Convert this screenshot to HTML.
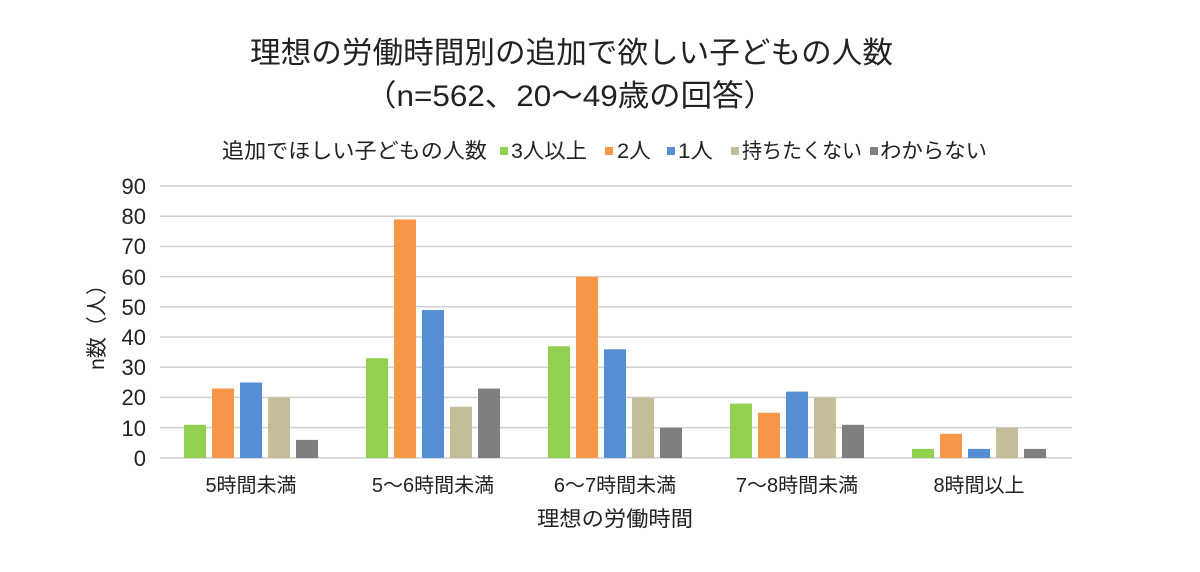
<!DOCTYPE html>
<html><head><meta charset="utf-8"><style>
body{margin:0;background:#fff;}
svg text{font-family:"Liberation Sans","Noto Sans CJK JP",sans-serif;fill:#222;}
</style></head><body>
<svg width="1200" height="567" viewBox="0 0 1200 567" xmlns="http://www.w3.org/2000/svg">
<rect width="1200" height="567" fill="#fff"/>
<text x="250" y="63" font-size="30" textLength="643" lengthAdjust="spacingAndGlyphs">理想の労働時間別の追加で欲しい子どもの人数</text>
<text x="365" y="106" font-size="30" textLength="410" lengthAdjust="spacingAndGlyphs">（n=562、20～49歳の回答）</text>
<g font-size="21">
<text x="222" y="158" textLength="265" lengthAdjust="spacingAndGlyphs">追加でほしい子どもの人数</text>
<rect x="500" y="147" width="8" height="8" fill="#92d050"/><text x="511" y="158" textLength="76" lengthAdjust="spacingAndGlyphs">3人以上</text>
<rect x="605" y="147" width="8" height="8" fill="#f79646"/><text x="617" y="158" textLength="34" lengthAdjust="spacingAndGlyphs">2人</text>
<rect x="667" y="147" width="8" height="8" fill="#558ed5"/><text x="678" y="158" textLength="35" lengthAdjust="spacingAndGlyphs">1人</text>
<rect x="731" y="147" width="8" height="8" fill="#c4bd97"/><text x="742" y="158" textLength="120" lengthAdjust="spacingAndGlyphs">持ちたくない</text>
<rect x="870" y="147" width="8" height="8" fill="#7f7f7f"/><text x="880" y="158" textLength="107" lengthAdjust="spacingAndGlyphs">わからない</text>
</g>
<g stroke="#d0d0d0" stroke-width="1.5">
<line x1="160" x2="1072" y1="186" y2="186"/><line x1="160" x2="1072" y1="216.2" y2="216.2"/>
<line x1="160" x2="1072" y1="246.4" y2="246.4"/><line x1="160" x2="1072" y1="276.6" y2="276.6"/>
<line x1="160" x2="1072" y1="306.8" y2="306.8"/><line x1="160" x2="1072" y1="337" y2="337"/>
<line x1="160" x2="1072" y1="367.2" y2="367.2"/><line x1="160" x2="1072" y1="397.4" y2="397.4"/>
<line x1="160" x2="1072" y1="427.6" y2="427.6"/><line x1="160" x2="1072" y1="458" y2="458"/>
</g>
<g font-size="22" text-anchor="end">
<text x="146" y="194">90</text><text x="146" y="224">80</text><text x="146" y="254">70</text>
<text x="146" y="285">60</text><text x="146" y="315">50</text><text x="146" y="345">40</text>
<text x="146" y="375">30</text><text x="146" y="405">20</text><text x="146" y="436">10</text>
<text x="146" y="466">0</text>
</g>
<text transform="translate(104,322) rotate(-90)" font-size="21" text-anchor="middle">n数（人）</text>
<g font-size="20" text-anchor="middle">
<text x="251" y="492">5時間未満</text><text x="433" y="492">5～6時間未満</text>
<text x="615" y="492">6～7時間未満</text><text x="797" y="492">7～8時間未満</text>
<text x="979" y="492">8時間以上</text>
</g>
<text x="537" y="526" font-size="21" textLength="156" lengthAdjust="spacingAndGlyphs">理想の労働時間</text>
<g>
<rect x="184" y="424.8" width="22" height="33.2" fill="#92d050"/>
<rect x="212" y="388.5" width="22" height="69.5" fill="#f79646"/>
<rect x="240" y="382.5" width="22" height="75.5" fill="#558ed5"/>
<rect x="268" y="397.6" width="22" height="60.4" fill="#c4bd97"/>
<rect x="296" y="439.9" width="22" height="18.1" fill="#7f7f7f"/>
<rect x="366" y="358.3" width="22" height="99.7" fill="#92d050"/>
<rect x="394" y="219.4" width="22" height="238.6" fill="#f79646"/>
<rect x="422" y="310" width="22" height="148" fill="#558ed5"/>
<rect x="450" y="406.7" width="22" height="51.3" fill="#c4bd97"/>
<rect x="478" y="388.5" width="22" height="69.5" fill="#7f7f7f"/>
<rect x="548" y="346.3" width="22" height="111.7" fill="#92d050"/>
<rect x="576" y="276.8" width="22" height="181.2" fill="#f79646"/>
<rect x="604" y="349.3" width="22" height="108.7" fill="#558ed5"/>
<rect x="632" y="397.6" width="22" height="60.4" fill="#c4bd97"/>
<rect x="660" y="427.8" width="22" height="30.2" fill="#7f7f7f"/>
<rect x="730" y="403.6" width="22" height="54.4" fill="#92d050"/>
<rect x="758" y="412.7" width="22" height="45.3" fill="#f79646"/>
<rect x="786" y="391.6" width="22" height="66.4" fill="#558ed5"/>
<rect x="814" y="397.6" width="22" height="60.4" fill="#c4bd97"/>
<rect x="842" y="424.8" width="22" height="33.2" fill="#7f7f7f"/>
<rect x="912" y="448.9" width="22" height="9.1" fill="#92d050"/>
<rect x="940" y="433.8" width="22" height="24.2" fill="#f79646"/>
<rect x="968" y="448.9" width="22" height="9.1" fill="#558ed5"/>
<rect x="996" y="427.8" width="22" height="30.2" fill="#c4bd97"/>
<rect x="1024" y="448.9" width="22" height="9.1" fill="#7f7f7f"/>
</g>
</svg>
</body></html>
